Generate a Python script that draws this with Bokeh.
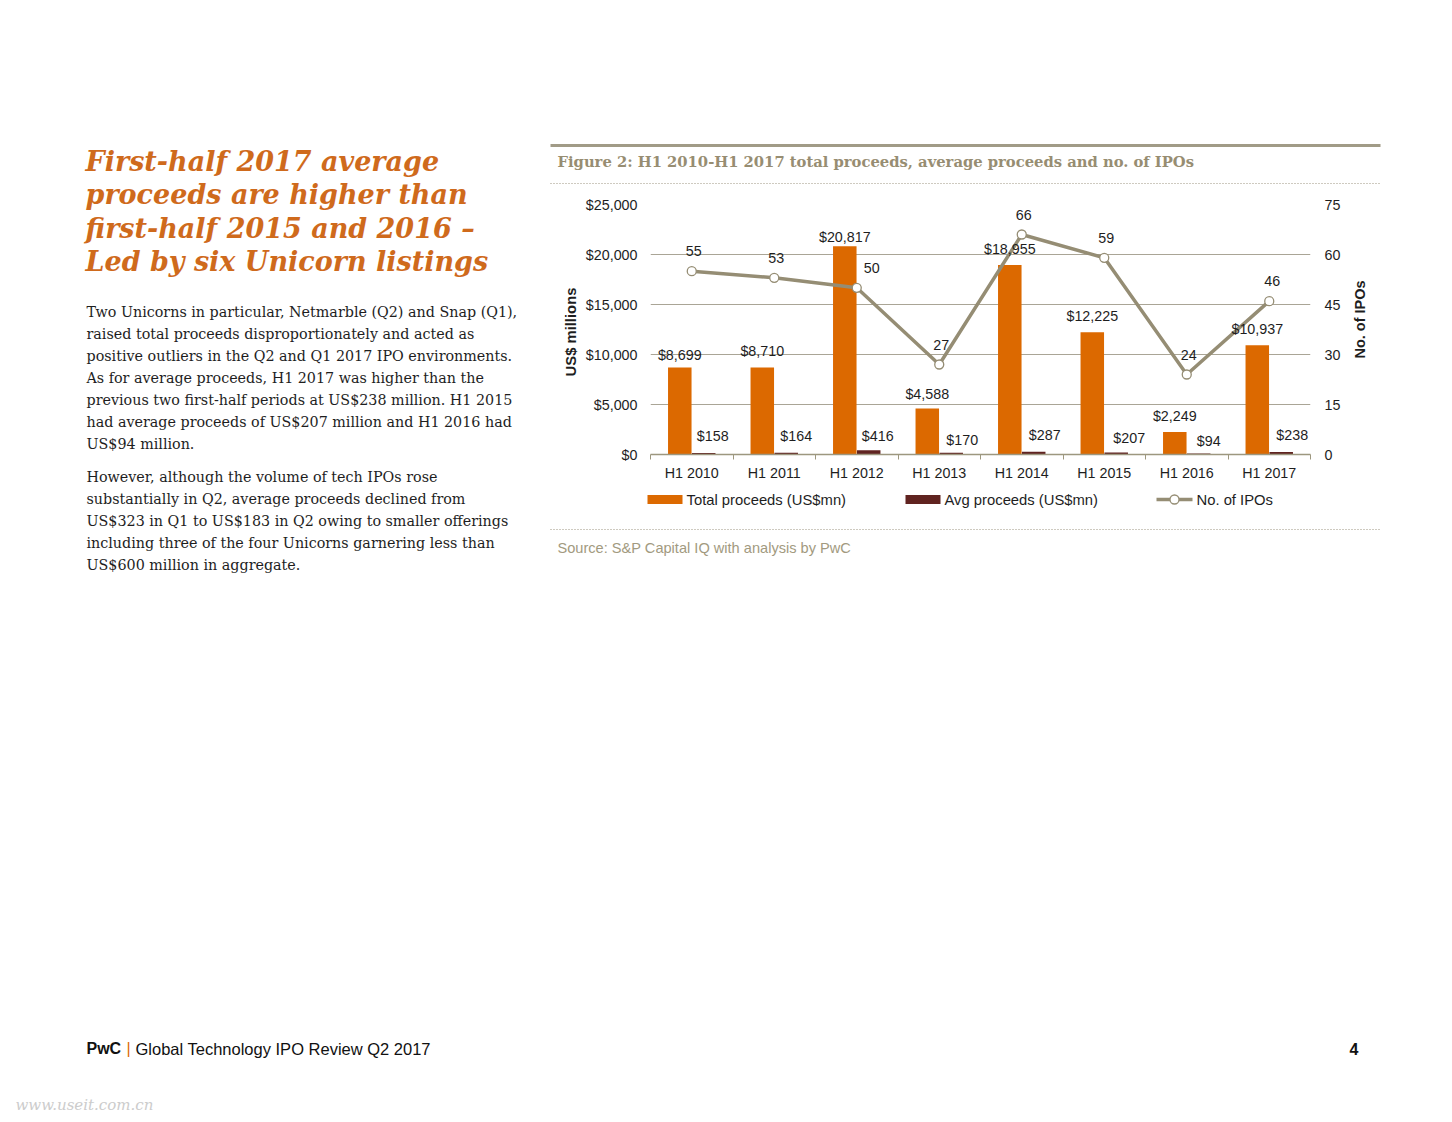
import math
from bokeh.plotting import figure
from bokeh.layouts import row, column
from bokeh.models import (Range1d, LinearAxis, FixedTicker, Label, ColumnDataSource,
                          NumeralTickFormatter, CustomJSTickFormatter)
from bokeh.transform import dodge
from bokeh.embed import file_html
from bokeh.resources import INLINE

# ---------------- data ----------------
periods = ["H1 2010", "H1 2011", "H1 2012", "H1 2013", "H1 2014", "H1 2015", "H1 2016", "H1 2017"]
total_proceeds = [8699, 8710, 20817, 4588, 18955, 12225, 2249, 10937]
avg_proceeds = [158, 164, 416, 170, 287, 207, 94, 238]
ipo_counts = [55, 53, 50, 27, 66, 59, 24, 46]
usd_ticks = [0, 5000, 10000, 15000, 20000, 25000]
count_ticks = [0, 15, 30, 45, 60, 75]
legend_labels = ["Total proceeds (US$mn)", "Avg proceeds (US$mn)", "No. of IPOs"]
left_axis_title = "US$ millions"
right_axis_title = "No. of IPOs"

heading_lines = ["First-half 2017 average", "proceeds are higher than",
                 "first-half 2015 and 2016 \u2013", "Led by six Unicorn listings"]
para1_lines = ["Two Unicorns in particular, Netmarble (Q2) and Snap (Q1),",
               "raised total proceeds disproportionately and acted as",
               "positive outliers in the Q2 and Q1 2017 IPO environments.",
               "As for average proceeds, H1 2017 was higher than the",
               "previous two first-half periods at US$238 million. H1 2015",
               "had average proceeds of US$207 million and H1 2016 had",
               "US$94 million."]
para2_lines = ["However, although the volume of tech IPOs rose",
               "substantially in Q2, average proceeds declined from",
               "US$323 in Q1 to US$183 in Q2 owing to smaller offerings",
               "including three of the four Unicorns garnering less than",
               "US$600 million in aggregate."]
figure_title = "Figure 2: H1 2010-H1 2017 total proceeds, average proceeds and no. of IPOs"
source_text = "Source: S&P Capital IQ with analysis by PwC"
footer_brand = "PwC"
footer_text = "Global Technology IPO Review Q2 2017"
page_number = "4"
watermark = "www.useit.com.cn"

# ---------------- style ----------------
SANS = "Liberation Sans"
SERIF = "DejaVu Serif"
ORANGE = "#dc6900"
DARK = "#602320"
LINE = "#958d74"
GRID = "#aaa596"
TITLE_C = "#978d72"
HEAD_C = "#cf6a1c"
TXT = "#1e1e1e"
FS = "14.3px"

# per-label nudges (pixels)
total_dy = [13, 16, 9, 15, 16, 16, 16, 16]
avg_dx = [9, 10, 9, 11, 11, 13, 10, 11]
avg_dy = [17, 17, 14, 13, 17, 14, 13, 17]
cnt_dx = [2, 2, 15, 2, 2, 2, 2, 3]

PW, PH = 1440, 1116          # page size
LW = 548                     # left column width
LL = 582                     # left edge of chart figure (after axis-title strip)
RL = 1345                    # right edge of chart figure (before axis-title strip)
FL, FR, FT, FB = 650, 1310, 204, 454   # chart frame (page px)
R1H = 196                    # top strip height (right column)
R2B = 490                    # chart figure bottom (page px)


def no_align(f):
    try:
        f.frame_align = False
    except Exception:
        pass


def page_fig(x0, x1, y0, y1):
    f = figure(width=x1 - x0, height=y1 - y0, x_range=Range1d(x0, x1), y_range=Range1d(y1, y0),
               output_backend="svg", toolbar_location=None, min_border=0,
               x_axis_location=None, y_axis_location=None, outline_line_color=None)
    f.grid.visible = False
    no_align(f)
    return f


def lab(f, text, x, y, font=SANS, size="13px", color=TXT, style="normal", align="left",
        angle=0.0):
    f.add_layout(Label(x=x, y=y, text=text, text_font=font, text_font_size=size,
                       text_color=color, text_font_style=style, text_align=align,
                       text_baseline="middle", angle=angle))


# ---------------- left column (text) ----------------
L = page_fig(0, LW, 0, PH)
for i, t in enumerate(heading_lines):
    lab(L, t, 85, 161 + 33.4 * i, font=SERIF, size="27px", color=HEAD_C, style="bold italic")
for i, t in enumerate(para1_lines):
    lab(L, t, 86, 311 + 22 * i, font=SERIF, size="14.3px")
for i, t in enumerate(para2_lines):
    lab(L, t, 86, 476 + 22 * i, font=SERIF, size="14.3px")
lab(L, footer_brand, 86, 1048, size="16px", style="bold", color="#111111")
lab(L, "|", 126, 1048, size="16px", color=ORANGE)
lab(L, footer_text, 135, 1048, size="16.5px", color="#111111")
lab(L, watermark, 15, 1104, font=SERIF, size="15px", color="#cccccc", style="italic")

# ---------------- right top strip ----------------
R1 = page_fig(LW, PW, 0, R1H)
R1.line(x=[550, 1380], y=[145, 145], line_color="#a19b87", line_width=3)
R1.line(x=[550, 1380], y=[183, 183], line_color="#9c9480", line_width=1, line_dash="1 2")
lab(R1, figure_title, 557, 161, font=SERIF, size="14.75px", color=TITLE_C, style="bold")

# ---------------- axis-title strips ----------------
AL = page_fig(LW, LL, R1H, R2B)
lab(AL, left_axis_title, 570.5, 331.5, style="bold", size="14.8px", align="center",
    angle=math.pi / 2)
AR = page_fig(RL, PW, R1H, R2B)
lab(AR, right_axis_title, 1359.5, 319, style="bold", size="14.5px", align="center",
    angle=math.pi / 2)

# ---------------- chart ----------------
idx = list(range(len(periods)))
src = ColumnDataSource(dict(
    idx=idx, total=total_proceeds, avg=avg_proceeds, cnt=ipo_counts,
    total_lbl=["${:,}".format(v) for v in total_proceeds],
    avg_lbl=["${:,}".format(v) for v in avg_proceeds],
    cnt_lbl=[str(v) for v in ipo_counts],
    total_dy=[-d for d in total_dy], avg_dx=avg_dx, avg_dy=[-d for d in avg_dy], cnt_dx=cnt_dx,
))

p = figure(width=RL - LL, height=R2B - R1H, x_range=Range1d(-0.5, len(periods) - 0.5),
           y_range=Range1d(0, 25000), output_backend="svg", toolbar_location=None,
           min_border_left=FL - LL, min_border_right=RL - FR,
           min_border_top=FT - R1H, min_border_bottom=R2B - FB,
           outline_line_color=None)
no_align(p)
p.extra_y_ranges = {"cnt": Range1d(0, 75)}

p.xgrid.visible = False
p.ygrid.ticker = FixedTicker(ticks=usd_ticks)
p.ygrid.grid_line_color = GRID
p.ygrid.grid_line_width = 1

ya = p.yaxis[0]
ya.ticker = FixedTicker(ticks=usd_ticks)
ya.formatter = NumeralTickFormatter(format="$0,0")
ra = LinearAxis(y_range_name="cnt", ticker=FixedTicker(ticks=count_ticks))
p.add_layout(ra, "right")
for ax, so in ((ya, 13), (ra, 14)):
    ax.major_tick_in = 0
    ax.major_tick_out = 0
    ax.minor_tick_in = 0
    ax.minor_tick_out = 0
    ax.axis_line_color = None
    ax.major_label_standoff = so
    ax.major_label_text_font = SANS
    ax.major_label_text_font_size = FS
    ax.major_label_text_color = TXT

xa = p.xaxis[0]
xa.ticker = FixedTicker(ticks=idx, minor_ticks=[i - 0.5 for i in idx] + [len(idx) - 0.5])
xa.formatter = CustomJSTickFormatter(args=dict(labels=periods),
                                     code="return labels[Math.round(tick)] || '';")
xa.major_tick_in = 0
xa.major_tick_out = 0
xa.minor_tick_in = 0
xa.minor_tick_out = 5
xa.minor_tick_line_color = "#9d977f"
xa.axis_line_color = "#9d977f"
xa.axis_line_width = 1.5
xa.major_label_standoff = 5
xa.major_label_text_font = SANS
xa.major_label_text_font_size = FS
xa.major_label_text_color = TXT

bw = 0.285
p.vbar(x=dodge("idx", -0.145, range=p.x_range), top="total", width=bw, source=src,
       fill_color=ORANGE, line_color=None)
p.vbar(x=dodge("idx", 0.145, range=p.x_range), top="avg", width=bw, source=src,
       fill_color=DARK, line_color=None)
p.line(x="idx", y="cnt", source=src, y_range_name="cnt", line_color=LINE, line_width=3.5)
p.scatter(x="idx", y="cnt", source=src, y_range_name="cnt", size=9,
          fill_color="white", line_color=LINE, line_width=1.3)

p.text(x=dodge("idx", -0.145, range=p.x_range), y="total", text="total_lbl", source=src,
       text_align="center", text_baseline="middle", y_offset="total_dy",
       text_font={"value": SANS}, text_font_size=FS, text_color=TXT)
p.text(x=dodge("idx", 0.145, range=p.x_range), y="avg", text="avg_lbl", source=src,
       text_align="center", text_baseline="middle", x_offset="avg_dx", y_offset="avg_dy",
       text_font={"value": SANS}, text_font_size=FS, text_color=TXT)
p.text(x="idx", y="cnt", text="cnt_lbl", source=src, y_range_name="cnt",
       text_align="center", text_baseline="middle", x_offset="cnt_dx", y_offset=-20,
       text_font={"value": SANS}, text_font_size=FS, text_color=TXT)

# ---------------- right bottom strip: legend, source, page number ----------------
R3 = page_fig(LW, PW, R2B, PH)
LY = 499
R3.quad(left=[647], right=[682], bottom=[503.5], top=[494.5], fill_color=ORANGE, line_color=None)
R3.quad(left=[905], right=[940], bottom=[503.5], top=[494.5], fill_color=DARK, line_color=None)
R3.line(x=[1156, 1192], y=[LY, LY], line_color=LINE, line_width=3.5)
R3.scatter(x=[1174], y=[LY], size=9, fill_color="white", line_color=LINE, line_width=1.3)
for x, t in zip([686, 944, 1196], legend_labels):
    lab(R3, t, x, LY, size="14.8px")
R3.line(x=[550, 1380], y=[529, 529], line_color="#9c9480", line_width=1, line_dash="1 2")
lab(R3, source_text, 557, 547, size="14.6px", color="#a29a80")
lab(R3, page_number, 1349, 1048, size="16px", style="bold", color="#111111")

layout = row(L, column(R1, row(AL, p, AR), R3))
open("out.html", "w").write(file_html(layout, INLINE))
